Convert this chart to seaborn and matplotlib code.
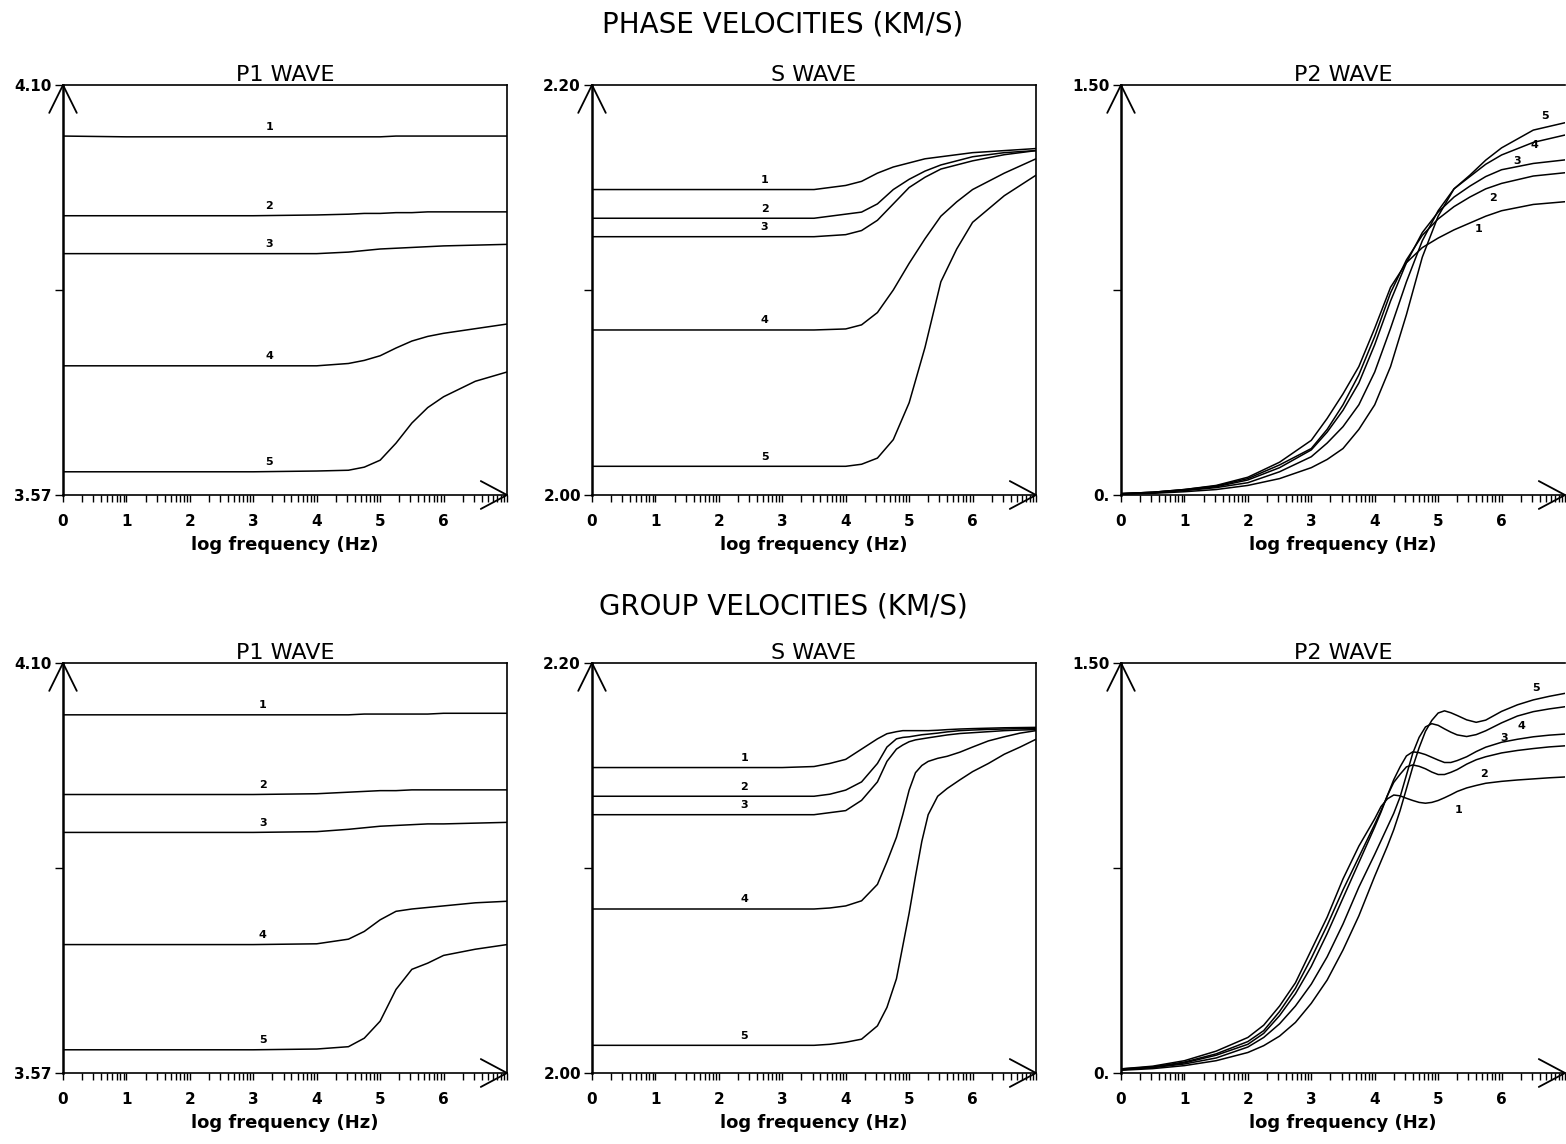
import numpy as np
import pandas as pd
import matplotlib
matplotlib.use("Agg")
import matplotlib.pyplot as plt
import seaborn as sns
from matplotlib.ticker import LogLocator, NullFormatter, NullLocator

# log10 frequency grids (Hz) and velocities (km/s), curves 1..5
p1_phase_x = [0, 1, 2, 3, 4, 4.5, 4.75, 5, 5.25, 5.5, 5.75, 6, 6.5, 7]
p1_phase_v = [
    [4.034, 4.033, 4.033, 4.033, 4.033, 4.033, 4.033, 4.033, 4.034, 4.034, 4.034, 4.034, 4.034, 4.034],
    [3.931, 3.931, 3.931, 3.931, 3.932, 3.933, 3.934, 3.934, 3.935, 3.935, 3.936, 3.936, 3.936, 3.936],
    [3.882, 3.882, 3.882, 3.882, 3.882, 3.884, 3.886, 3.888, 3.889, 3.890, 3.891, 3.892, 3.893, 3.894],
    [3.737, 3.737, 3.737, 3.737, 3.737, 3.740, 3.744, 3.750, 3.760, 3.769, 3.775, 3.779, 3.785, 3.791],
    [3.600, 3.600, 3.600, 3.600, 3.601, 3.602, 3.606, 3.615, 3.637, 3.663, 3.683, 3.697, 3.717, 3.729],
]

s_phase_x = [0, 1, 2, 3, 3.5, 4, 4.25, 4.5, 4.75, 5, 5.25, 5.5, 5.75, 6, 6.5, 7]
s_phase_v = [
    [2.149, 2.149, 2.149, 2.149, 2.149, 2.151, 2.153, 2.157, 2.160, 2.162, 2.164, 2.165, 2.166, 2.167, 2.168, 2.169],
    [2.135, 2.135, 2.135, 2.135, 2.135, 2.137, 2.138, 2.142, 2.149, 2.154, 2.158, 2.161, 2.163, 2.165, 2.167, 2.168],
    [2.126, 2.126, 2.126, 2.126, 2.126, 2.127, 2.129, 2.134, 2.142, 2.150, 2.155, 2.159, 2.161, 2.163, 2.166, 2.168],
    [2.0805, 2.0805, 2.0805, 2.0805, 2.0805, 2.081, 2.083, 2.089, 2.100, 2.113, 2.125, 2.136, 2.143, 2.149, 2.157, 2.164],
    [2.014, 2.014, 2.014, 2.014, 2.014, 2.014, 2.015, 2.018, 2.027, 2.045, 2.072, 2.104, 2.120, 2.133, 2.146, 2.156],
]

p2_phase_x = [0, 0.5, 1, 1.5, 2, 2.5, 3, 3.25, 3.5, 3.75, 4, 4.25, 4.5, 4.75, 5, 5.25, 5.5, 5.75, 6, 6.5, 7]
p2_phase_v = [
    [0.005, 0.01, 0.02, 0.035, 0.065, 0.12, 0.20, 0.28, 0.37, 0.47, 0.61, 0.76, 0.85, 0.905, 0.94, 0.97, 0.995, 1.02, 1.04, 1.063, 1.073],
    [0.005, 0.01, 0.02, 0.033, 0.06, 0.11, 0.17, 0.24, 0.33, 0.44, 0.58, 0.74, 0.86, 0.95, 1.01, 1.055, 1.09, 1.12, 1.14, 1.167, 1.179],
    [0.005, 0.01, 0.018, 0.03, 0.055, 0.10, 0.165, 0.23, 0.31, 0.41, 0.55, 0.71, 0.85, 0.96, 1.035, 1.09, 1.13, 1.165, 1.19, 1.213, 1.226],
    [0.004, 0.008, 0.016, 0.027, 0.045, 0.085, 0.14, 0.19, 0.25, 0.33, 0.45, 0.61, 0.78, 0.93, 1.04, 1.12, 1.165, 1.21, 1.244, 1.29, 1.317],
    [0.003, 0.006, 0.012, 0.02, 0.035, 0.06, 0.10, 0.13, 0.17, 0.24, 0.33, 0.47, 0.66, 0.87, 1.02, 1.12, 1.17, 1.225, 1.27, 1.335, 1.362],
]

p1_group_x = [0, 1, 2, 3, 4, 4.5, 4.75, 5, 5.25, 5.5, 5.75, 6, 6.5, 7]
p1_group_v = [
    [4.033, 4.033, 4.033, 4.033, 4.033, 4.033, 4.034, 4.034, 4.034, 4.034, 4.034, 4.035, 4.035, 4.035],
    [3.930, 3.930, 3.930, 3.930, 3.931, 3.933, 3.934, 3.935, 3.935, 3.936, 3.936, 3.936, 3.936, 3.936],
    [3.881, 3.881, 3.881, 3.881, 3.882, 3.885, 3.887, 3.889, 3.890, 3.891, 3.892, 3.892, 3.893, 3.894],
    [3.736, 3.736, 3.736, 3.736, 3.737, 3.743, 3.753, 3.768, 3.779, 3.782, 3.784, 3.786, 3.790, 3.792],
    [3.600, 3.600, 3.600, 3.600, 3.601, 3.604, 3.615, 3.637, 3.678, 3.704, 3.712, 3.722, 3.730, 3.736],
]

s_group_x = [0, 1, 2, 3, 3.5, 3.75, 4, 4.25, 4.5, 4.65, 4.8, 4.9, 5.0, 5.1, 5.2, 5.3, 5.45, 5.6,
             5.8, 6.0, 6.25, 6.5, 6.75, 7]
s_group_v = [
    [2.149, 2.149, 2.149, 2.149, 2.1495, 2.151, 2.153, 2.158, 2.163, 2.1655, 2.1665, 2.167, 2.167,
     2.167, 2.167, 2.167, 2.1672, 2.1675, 2.1678, 2.168, 2.1682, 2.1684, 2.1685, 2.1686],
    [2.135, 2.135, 2.135, 2.135, 2.135, 2.136, 2.138, 2.142, 2.151, 2.159, 2.163, 2.1637, 2.164,
     2.1645, 2.165, 2.1653, 2.1658, 2.1664, 2.167, 2.1673, 2.1676, 2.1678, 2.168, 2.168],
    [2.126, 2.126, 2.126, 2.126, 2.126, 2.127, 2.128, 2.133, 2.142, 2.152, 2.158, 2.160, 2.1616,
     2.1625, 2.163, 2.1635, 2.1642, 2.1649, 2.1656, 2.166, 2.1665, 2.167, 2.1673, 2.1675],
    [2.080, 2.080, 2.080, 2.080, 2.080, 2.0805, 2.0815, 2.084, 2.092, 2.103, 2.115, 2.126, 2.138,
     2.1465, 2.150, 2.152, 2.1535, 2.1545, 2.1565, 2.159, 2.162, 2.164, 2.1658, 2.167],
    [2.0135, 2.0135, 2.0135, 2.0135, 2.0135, 2.014, 2.015, 2.0165, 2.023, 2.032, 2.046, 2.062, 2.078,
     2.096, 2.113, 2.126, 2.135, 2.1388, 2.143, 2.147, 2.151, 2.1555, 2.159, 2.1628],
]

p2_group_x = [0, 0.5, 1, 1.5, 2, 2.25, 2.5, 2.75, 3, 3.25, 3.5, 3.75, 4, 4.1, 4.2, 4.3, 4.4, 4.5,
              4.6, 4.7, 4.8, 4.9, 5.0, 5.1, 5.2, 5.3, 5.45, 5.6, 5.75, 6, 6.25, 6.5, 6.75, 7]
p2_group_v = [
    [0.015, 0.025, 0.045, 0.08, 0.13, 0.175, 0.245, 0.33, 0.45, 0.57, 0.71, 0.83, 0.93, 0.975,
     1.003, 1.017, 1.014, 1.005, 0.997, 0.99, 0.987, 0.99, 0.997, 1.007, 1.018, 1.03, 1.043,
     1.052, 1.06, 1.067, 1.072, 1.076, 1.08, 1.083],
    [0.015, 0.022, 0.04, 0.07, 0.115, 0.155, 0.225, 0.31, 0.42, 0.54, 0.67, 0.79, 0.91, 0.96,
     1.015, 1.063, 1.093, 1.12, 1.127, 1.122, 1.113, 1.101, 1.092, 1.092, 1.1, 1.11, 1.13,
     1.146, 1.157, 1.171, 1.18, 1.187, 1.193, 1.197],
    [0.012, 0.02, 0.037, 0.065, 0.105, 0.145, 0.21, 0.29, 0.39, 0.51, 0.64, 0.77, 0.90, 0.955,
     1.015, 1.073, 1.12, 1.16, 1.175, 1.172, 1.165, 1.155, 1.145, 1.136, 1.136, 1.143, 1.157,
     1.176, 1.192, 1.21, 1.221, 1.23, 1.236, 1.240],
    [0.012, 0.02, 0.033, 0.055, 0.095, 0.13, 0.18, 0.245, 0.325, 0.425, 0.545, 0.68, 0.80, 0.85,
     0.9, 0.95, 1.01, 1.09, 1.17, 1.228, 1.266, 1.278, 1.272, 1.259, 1.247, 1.237, 1.231,
     1.238, 1.252, 1.281, 1.306, 1.322, 1.332, 1.340],
    [0.01, 0.016, 0.027, 0.045, 0.075, 0.10, 0.135, 0.185, 0.255, 0.34, 0.45, 0.575, 0.72, 0.775,
     0.83, 0.89, 0.96, 1.04, 1.12, 1.19, 1.25, 1.29, 1.317, 1.325, 1.318, 1.308, 1.292,
     1.283, 1.291, 1.323, 1.347, 1.365, 1.378, 1.389],
]

curve_names = ["1", "2", "3", "4", "5"]
decade_labels = ["0", "1", "2", "3", "4", "5", "6", ""]

# y axis limits and end labels
p1_lim, p1_ticks = (3.57, 4.10), ["3.57", "4.10"]
s_lim, s_ticks = (2.00, 2.20), ["2.00", "2.20"]
p2_lim, p2_ticks = (0.0, 1.50), ["0.", "1.50"]


def to_long(logf, curves):
    rows = []
    for name, vals in zip(curve_names, curves):
        for lf, v in zip(logf, vals):
            rows.append({"freq": 10 ** lf, "vel": v, "curve": name})
    return pd.DataFrame(rows)


def draw_panel(ax, logf, curves, ylim, yticklabels, title, label_x, label_dy, hide_right=False):
    df = to_long(logf, curves)
    sns.lineplot(data=df, x="freq", y="vel", hue="curve", palette=["black"] * 5,
                 estimator=None, sort=False, legend=False, linewidth=1.1, ax=ax)
    ax.set_xscale("log")
    ax.set_xlim(1, 1e7)
    ax.set_ylim(*ylim)

    ax.set_xticks([10 ** k for k in range(8)], decade_labels)
    ax.xaxis.set_minor_locator(LogLocator(base=10, subs=np.arange(2, 10), numticks=30))
    ax.xaxis.set_minor_formatter(NullFormatter())
    lo, hi = ylim
    ax.set_yticks([lo, (lo + hi) / 2, hi], [yticklabels[0], "", yticklabels[1]])
    ax.yaxis.set_minor_locator(NullLocator())

    ax.tick_params(axis="x", which="both", bottom=True, direction="out", length=5, width=1,
                   pad=9, labelsize=11, colors="black")
    ax.tick_params(axis="y", which="major", left=True, direction="out", length=6, width=1,
                   pad=2, labelsize=11, colors="black")
    for lab in ax.get_xticklabels() + ax.get_yticklabels():
        lab.set_fontweight("bold")

    for sp in ax.spines.values():
        sp.set_visible(True)
        sp.set_color("black")
        sp.set_linewidth(1.2)
    ax.spines["left"].set_linewidth(1.8)
    if hide_right:
        ax.spines["right"].set_visible(False)

    ax.set_title(title, fontsize=16, pad=3, color="black")
    ax.set_xlabel("log frequency (Hz)", fontsize=13, fontweight="bold", labelpad=5, color="black")
    ax.set_ylabel("")
    ax.grid(False)

    # curve numbers
    for name, vals, lx, dy in zip(curve_names, curves, label_x, label_dy):
        y = np.interp(lx, logf, vals)
        ax.annotate(name, (10 ** lx, y), xytext=(0, dy), textcoords="offset points",
                    ha="center", va="center", fontsize=8, fontweight="bold", color="black")

    # open arrowheads at the axis ends
    ax.plot([-0.031, 0, 0.031], [0.932, 1, 0.932], transform=ax.transAxes,
            color="black", lw=1.3, clip_on=False)
    ax.plot([0.941, 1, 0.941], [0.034, 0, -0.034], transform=ax.transAxes,
            color="black", lw=1.3, clip_on=False)


sns.set_style("white")
plt.rcParams["font.family"] = ["DejaVu Sans"]
plt.rcParams["text.color"] = "black"

fig = plt.figure(figsize=(15.66, 11.44), dpi=100)
fig.patch.set_facecolor("white")

col_left = [63 / 1566, 592 / 1566, 1121 / 1566]
col_w = 444 / 1566
row_bottom = [1 - 495 / 1144, 1 - 1073 / 1144]
row_h = 410 / 1144

panels = [
    (0, 0, p1_phase_x, p1_phase_v, p1_lim, p1_ticks, "P1 WAVE", [3.25] * 5, [7] * 5),
    (0, 1, s_phase_x, s_phase_v, s_lim, s_ticks, "S WAVE", [2.72] * 5, [7] * 5),
    (0, 2, p2_phase_x, p2_phase_v, p2_lim, p2_ticks, "P2 WAVE",
     [5.63, 5.86, 6.24, 6.52, 6.68], [-7, -8, 4, -2, 8]),
    (1, 0, p1_group_x, p1_group_v, p1_lim, p1_ticks, "P1 WAVE", [3.15] * 5, [7] * 5),
    (1, 1, s_group_x, s_group_v, s_lim, s_ticks, "S WAVE", [2.4] * 5, [7] * 5),
    (1, 2, p2_group_x, p2_group_v, p2_lim, p2_ticks, "P2 WAVE",
     [5.32, 5.73, 6.04, 6.32, 6.54], [-14, -12, 3, -8, 8]),
]

for r, c, lx, lv, lim, tl, title, labx, laby in panels:
    ax = fig.add_axes([col_left[c], row_bottom[r], col_w, row_h])
    draw_panel(ax, lx, lv, lim, tl, title, labx, laby, hide_right=(c == 2))

fig.text(0.5, 1 - 25 / 1144, "PHASE VELOCITIES (KM/S)", ha="center", va="center",
         fontsize=20, color="black")
fig.text(0.5, 1 - 606 / 1144, "GROUP VELOCITIES (KM/S)", ha="center", va="center",
         fontsize=20, color="black")

fig.savefig("out.png", dpi=100, facecolor="white")
